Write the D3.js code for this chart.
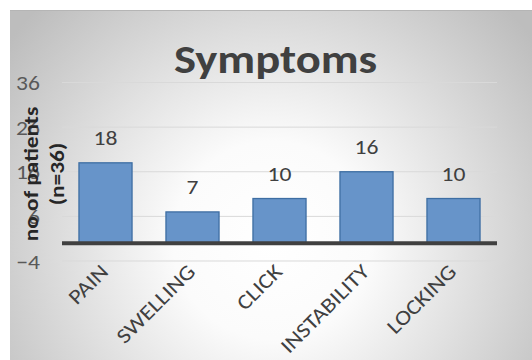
<!DOCTYPE html>
<html>
<head>
<meta charset="utf-8">
<script src="https://cdn.jsdelivr.net/npm/d3@7"></script>
<style>
  html, body { margin: 0; padding: 0; background: #ffffff; }
  svg { display: block; }
  text { font-family: "Carlito", "Open Sans", "Noto Sans", sans-serif; }
</style>
</head>
<body>
<svg id="chart" width="532" height="360"></svg>
<script>
// Symptom counts among 36 patients
const categories = ["PAIN", "SWELLING", "CLICK", "INSTABILITY", "LOCKING"];
const patients = [18, 7, 10, 16, 10];
const yTicks = [-4, 6, 16, 26, 36];
const chartTitle = "Symptoms";
const yTitleLines = ["no of patients", "(n=36)"];

const W = 532, H = 360;
const SX = 1.15; // glyphs are drawn slightly widened along the text direction
const svg = d3.select("#chart");

// Panel with soft radial shading
const defs = svg.append("defs");
const grad = defs.append("radialGradient")
  .attr("id", "panelShade")
  .attr("gradientUnits", "userSpaceOnUse")
  .attr("cx", 272).attr("cy", 240).attr("r", 330);
grad.append("stop").attr("offset", "0").attr("stop-color", "#ffffff");
grad.append("stop").attr("offset", "0.3").attr("stop-color", "#fbfbfb");
grad.append("stop").attr("offset", "1").attr("stop-color", "#bdbdbd");

svg.append("rect").attr("x", 10).attr("y", 10).attr("width", W - 10).attr("height", H - 10)
  .attr("fill", "url(#panelShade)");
svg.append("line").attr("x1", 10).attr("x2", W).attr("y1", 10.5).attr("y2", 10.5)
  .attr("stroke", "#b5b5b5").attr("stroke-width", 1);

// Scales
const plotLeft = 62, plotRight = 497;
const x = d3.scaleBand().domain(categories).range([plotLeft, plotRight]).paddingInner(0.39).paddingOuter(0.195);
const y = d3.scaleLinear().domain([-4, 36]).range([261, 82.5]);

// Gridlines
svg.append("g").selectAll("line").data(yTicks).join("line")
  .attr("x1", plotLeft).attr("x2", plotRight)
  .attr("y1", d => y(d)).attr("y2", d => y(d))
  .attr("stroke", "#d9d9d9").attr("stroke-width", 1);

// Y axis tick labels
const yAxis = svg.append("g")
  .attr("transform", "translate(40,0)")
  .call(d3.axisLeft(y).tickValues(yTicks).tickSize(0).tickPadding(0));
yAxis.select(".domain").remove();
yAxis.selectAll(".tick text")
  .attr("x", null).attr("dy", null)
  .attr("transform", `translate(0,7) scale(${SX},1)`)
  .attr("text-anchor", "end")
  .attr("fill", "#595959")
  .style("font-size", "20.5px")
  .style("font-family", "\"Carlito\", \"Open Sans\", sans-serif");

// Bars
svg.append("g").selectAll("rect").data(categories).join("rect")
  .attr("x", d => x(d))
  .attr("width", x.bandwidth())
  .attr("y", (d, i) => y(patients[i]))
  .attr("height", (d, i) => y(0) - y(patients[i]))
  .attr("fill", "#6794c9")
  .attr("stroke", "#3e6ea3")
  .attr("stroke-width", 1.3);

// Zero line
svg.append("line")
  .attr("x1", plotLeft).attr("x2", plotRight)
  .attr("y1", y(0)).attr("y2", y(0))
  .attr("stroke", "#404040").attr("stroke-width", 4);

// Value labels
svg.append("g").selectAll("text").data(categories).join("text")
  .attr("transform", (d, i) => `translate(${x(d) + x.bandwidth() / 2},${y(patients[i]) - 17.5}) scale(${SX},1)`)
  .attr("text-anchor", "middle")
  .attr("fill", "#404040")
  .style("font-size", "20.5px")
  .text((d, i) => patients[i]);

// Category labels, rotated
svg.append("g").selectAll("text").data(categories).join("text")
  .attr("transform", d => `translate(${x(d) + x.bandwidth() / 2 + 4},273) rotate(-45) scale(${SX},1)`)
  .attr("text-anchor", "end")
  .attr("fill", "#404040")
  .style("font-size", "21px")
  .text(d => d);

// Y axis title
svg.append("g").selectAll("text").data(yTitleLines).join("text")
  .attr("transform", (d, i) => `translate(${38 + i * 26},174) rotate(-90) scale(${SX},1)`)
  .attr("text-anchor", "middle")
  .attr("fill", "#262626")
  .style("font-size", "20.3px")
  .style("font-weight", "bold")
  .text(d => d);

// Chart title
svg.append("text")
  .attr("transform", `translate(275.5,72.5) scale(${SX},1)`)
  .attr("text-anchor", "middle")
  .attr("fill", "#404040")
  .style("font-size", "40.5px")
  .style("font-weight", "bold")
  .text(chartTitle);
</script>
</body>
</html>
